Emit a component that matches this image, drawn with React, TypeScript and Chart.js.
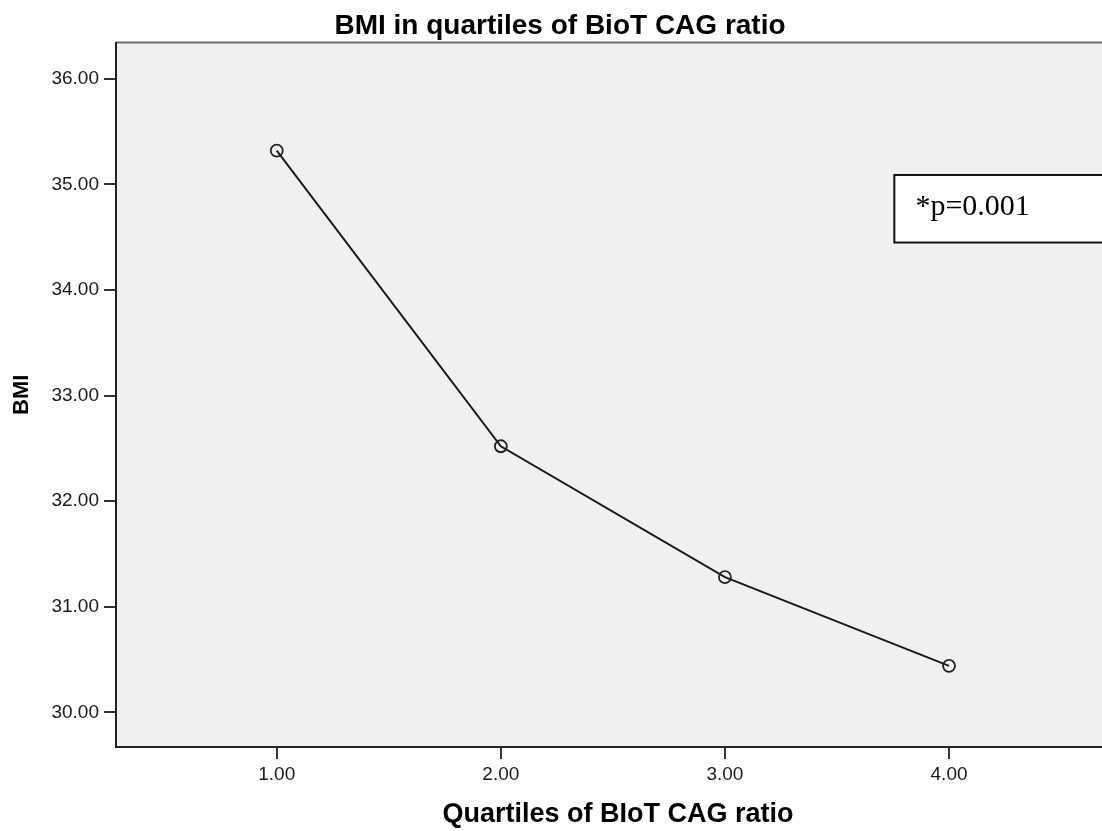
import React, { useEffect, useRef } from "react";
import { Chart, registerables } from "chart.js";

Chart.register(...registerables);

// ---- data ----
const quartiles = [1, 2, 3, 4];
const bmiMeans = [35.32, 32.52, 31.28, 30.44];
const xTickValues = [1, 2, 3, 4];
const yTickValues = [30, 31, 32, 33, 34, 35, 36];
const chartTitle = "BMI in quartiles of BioT CAG ratio";
const xAxisTitle = "Quartiles of BIoT CAG ratio";
const yAxisTitle = "BMI";
const noteText = "*p=0.001";
// annotation box, in data units
const noteBoxX = [3.756];
const noteBoxY = [34.45, 35.09];
const noteTextAt = [3.85, 34.714];

const SANS = "'Liberation Sans', Arial, Helvetica, sans-serif";
const SERIF = "'Liberation Serif', 'Times New Roman', serif";

const backgroundPlugin = {
  id: "spssBackground",
  beforeDraw(chart: any) {
    const { ctx, chartArea: a } = chart;
    ctx.save();
    ctx.fillStyle = "#f0f0f0";
    ctx.fillRect(a.left, a.top, a.right - a.left, a.bottom - a.top);
    ctx.strokeStyle = "#6e6e6e";
    ctx.lineWidth = 2;
    ctx.beginPath();
    ctx.moveTo(a.left, a.top);
    ctx.lineTo(a.right, a.top);
    ctx.stroke();
    ctx.restore();
  },
  afterDraw(chart: any) {
    const { ctx } = chart;
    const xs = chart.scales.x;
    const ys = chart.scales.y;
    const left = xs.getPixelForValue(noteBoxX[0]);
    const top = ys.getPixelForValue(noteBoxY[1]);
    const bottom = ys.getPixelForValue(noteBoxY[0]);
    const right = chart.width + 10;
    ctx.save();
    ctx.fillStyle = "#ffffff";
    ctx.fillRect(left, top, right - left, bottom - top);
    ctx.strokeStyle = "#111";
    ctx.lineWidth = 2;
    ctx.strokeRect(left, top, right - left, bottom - top);
    ctx.fillStyle = "#000";
    ctx.font = `30px ${SERIF}`;
    ctx.textBaseline = "alphabetic";
    ctx.textAlign = "left";
    ctx.fillText(noteText, xs.getPixelForValue(noteTextAt[0]), ys.getPixelForValue(noteTextAt[1]));
    ctx.restore();
  },
};

export default function App() {
  const ref = useRef<HTMLCanvasElement | null>(null);

  useEffect(() => {
    document.body.style.margin = "0";
    const canvas = ref.current;
    if (!canvas) return;
    const chart = new Chart(canvas, {
      type: "line",
      data: {
        datasets: [
          {
            data: quartiles.map((q, i) => ({ x: q, y: bmiMeans[i] })),
            borderColor: "#1a1a1a",
            borderWidth: 2,
            pointStyle: "circle",
            pointRadius: 6,
            pointBorderWidth: 1.8,
            pointBorderColor: "#222",
            pointBackgroundColor: "rgba(0,0,0,0)",
            fill: false,
            tension: 0,
          },
        ],
      },
      plugins: [backgroundPlugin],
      options: {
        responsive: false,
        animation: false,
        devicePixelRatio: 1,
        layout: { padding: { left: 0, top: 0, right: 20, bottom: 0 } },
        plugins: {
          legend: { display: false },
          tooltip: { enabled: false },
          title: {
            display: true,
            text: chartTitle,
            color: "#000",
            font: { family: SANS, size: 28, weight: "bold" },
            padding: { top: 9, bottom: 0 },
          },
        },
        scales: {
          x: {
            type: "linear",
            min: 0.2826,
            max: 4.763,
            afterBuildTicks: (s: any) => {
              s.ticks = xTickValues.map((v) => ({ value: v }));
            },
            afterFit: (s: any) => {
              s.height = 84;
            },
            ticks: {
              callback: (v: any) => Number(v).toFixed(2),
              font: { family: SANS, size: 19 },
              color: "#1a1a1a",
              padding: 4,
              maxRotation: 0,
            },
            grid: {
              drawOnChartArea: false,
              drawTicks: true,
              tickLength: 12,
              color: "#333",
              lineWidth: 2,
            },
            border: { display: true, color: "#222", width: 2 },
            title: {
              display: true,
              text: xAxisTitle,
              color: "#000",
              font: { family: SANS, size: 27, weight: "bold" },
              padding: { top: 0, bottom: 0 },
            },
          },
          y: {
            type: "linear",
            min: 29.671,
            max: 36.344,
            afterBuildTicks: (s: any) => {
              s.ticks = yTickValues.map((v) => ({ value: v }));
            },
            afterFit: (s: any) => {
              s.width = 116;
            },
            ticks: {
              callback: (v: any) => Number(v).toFixed(2),
              font: { family: SANS, size: 19 },
              color: "#1a1a1a",
              padding: 5,
            },
            grid: {
              drawOnChartArea: false,
              drawTicks: true,
              tickLength: 12,
              color: "#333",
              lineWidth: 2,
            },
            border: { display: true, color: "#222", width: 2 },
            title: {
              display: true,
              text: yAxisTitle,
              color: "#000",
              font: { family: SANS, size: 22, weight: "bold" },
              padding: { top: 9, bottom: 0 },
            },
          },
        },
      },
    } as any);
    return () => chart.destroy();
  }, []);

  return (
    <div style={{ width: 1102, height: 831, overflow: "hidden", position: "relative", background: "#fff" }}>
      <canvas ref={ref} width={1140} height={831} style={{ display: "block" }} />
    </div>
  );
}
